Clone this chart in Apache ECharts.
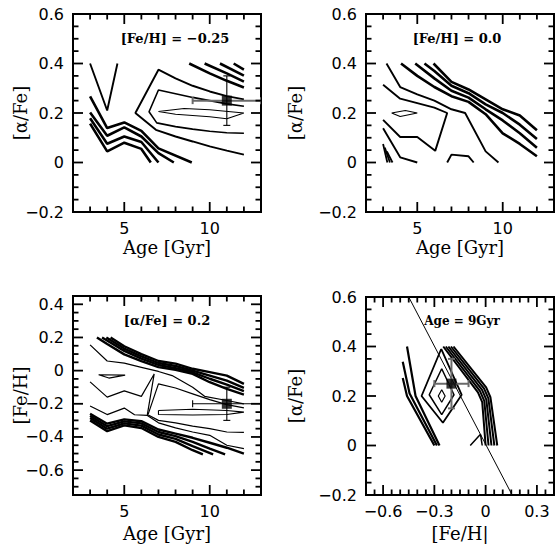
<!DOCTYPE html>
<html><head><meta charset="utf-8">
<script src="https://cdn.jsdelivr.net/npm/echarts@6/dist/echarts.min.js"></script>
<style>html,body{margin:0;padding:0;background:#fff}#c{width:555px;height:544px}</style>
</head><body><div id="c"></div><script>
// ---------- tick values ----------
const ageMajor = [5, 10];
const ageMinorStep = 1;
const alphaMajor = [-0.2, 0, 0.2, 0.4, 0.6];
const alphaMinorStep = 0.05;
const feYMajor = [-0.6, -0.4, -0.2, 0, 0.2, 0.4];
const feYMinorStep = 0.05;
const feXMajor = [-0.6, -0.3, 0, 0.3];
const feXMinorStep = 0.05;

// ---------- panel 1 : [Fe/H] = -0.25 ----------
const p1V = [[3,0.4],[4,0.21],[4.6,0.4]];
const p1Low1 = [[3,0.267],[4,0.139],[5,0.162],[6,0.128],[7,0.057],[8.95,0]];
const p1Low2 = [[3,0.202],[4,0.108],[5,0.142],[6,0.105],[7,0.038],[7.9,0]];
const p1Low3 = [[3,0.179],[4,0.076],[5,0.105],[6,0.083],[7,0]];
const p1Low4 = [[3,0.157],[4,0.045],[5,0.08],[6,0.055],[6.55,0]];
const p1Top1 = [[8.8,0.4],[10,0.36],[11,0.33],[12,0.303]];
const p1Top2 = [[9.7,0.4],[11,0.36],[12,0.327]];
const p1Top3 = [[10.6,0.4],[12,0.351]];
const p1Top4 = [[11.4,0.4],[12,0.375]];
const p1C1 = [[12,0.255],[11,0.268],[10,0.287],[9,0.31],[8,0.34],[7,0.375],[5.65,0.2],[6.85,0.132],[8,0.105],[9,0.085],[10,0.065],[11,0.048],[12,0.032]];
const p1C2 = [[12,0.227],[11,0.237],[10,0.25],[9,0.263],[8,0.278],[7,0.293],[6.45,0.205],[6.9,0.16],[8,0.145],[9,0.135],[10,0.126],[11,0.12],[12,0.118]];
const p1C3 = [[12,0.2],[10,0.213],[8.5,0.218],[7,0.206],[8,0.195],[10,0.185],[11,0.177],[12,0.2]];
const p1Point = [11, 0.25];
const p1AgeRange = [9, 13];
const p1ValRange = [0.15, 0.35];

// ---------- panel 2 : [Fe/H] = 0.0 ----------
const p2Thick1 = [[5.95,0.4],[7,0.326],[8,0.295],[9,0.255],[10,0.215],[11,0.19],[12,0.13]];
const p2Thick2 = [[5.42,0.4],[6,0.37],[7,0.31],[8,0.28],[9,0.235],[10,0.2],[11,0.153],[12,0.095]];
const p2Thick3 = [[4.88,0.4],[6,0.34],[7,0.29],[8,0.262],[9,0.215],[10,0.17],[11,0.118],[12,0.06]];
const p2Thick4 = [[4.05,0.4],[5,0.35],[6,0.305],[7,0.268],[8,0.245],[9,0.195],[10,0.118],[11,0.075],[12,0.025]];
const p2LineA = [[3,0.314],[4,0.258],[5,0.24],[6,0.222],[6.75,0.2],[6.05,0.047],[5,0.103],[4,0.103],[3,0.172]];
const p2LineB = [[3.2,0.4],[4,0.305],[5,0.275],[6,0.25],[7,0.215],[7.8,0.2],[9,0.045],[9.75,0]];
const p2LineD = [[3,0.138],[4,0.021],[5,0]];
const p2LineF = [[6.75,0],[7,0.032],[8,0.025],[8.3,0]];
const p2Diamond = [[3.5,0.2],[4.3,0.21],[5,0.2],[4,0.186],[3.5,0.2]];
const p2Short1 = [[3.0,0.075],[3.25,0]];
const p2Short2 = [[3.1,0.06],[3.4,0]];
const p2Short3 = [[3.22,0.045],[3.55,0]];

// ---------- panel 3 : [alpha/Fe] = 0.2 ----------
const p3Up1 = [[4.2,0.2],[5,0.147],[6,0.1],[7,0.058],[8,0.042],[9,0.011],[10,-0.009],[11,-0.03],[12,-0.08]];
const p3Up2 = [[3.95,0.2],[5,0.133],[6,0.086],[7,0.046],[8,0.028],[9,0],[10,-0.03],[11,-0.06],[12,-0.104]];
const p3Up3 = [[3.7,0.2],[5,0.119],[6,0.072],[7,0.034],[8,0.015],[9,-0.01],[10,-0.049],[11,-0.084],[12,-0.124]];
const p3Up4 = [[3.4,0.2],[4,0.16],[5,0.098],[6,0.058],[7,0.021],[8,0.005],[9,-0.02],[10,-0.07],[11,-0.11],[12,-0.145]];
const p3LineA = [[3,0.155],[4,0.058],[5,0.045],[6,0.02],[7,-0.005],[7.8,-0.03],[9,-0.1],[9.7,-0.155],[11,-0.18],[12,-0.2]];
const p3LineB = [[3,-0.068],[4,-0.16],[5,-0.122],[6,-0.155],[6.75,-0.02],[6.35,-0.265],[7,-0.3],[8,-0.315],[9,-0.335],[10,-0.35],[11,-0.37],[12,-0.372]];
const p3LineC = [[12,-0.225],[11,-0.205],[10,-0.175],[9,-0.14],[8,-0.105],[7,-0.08],[6.4,-0.262]];
const p3LineD = [[3,-0.213],[4,-0.265],[5,-0.226],[5.6,-0.266],[6.35,-0.27],[7,-0.315],[8,-0.345],[9,-0.37],[10,-0.39],[11,-0.45],[12,-0.47]];
const p3Inner = [[7,-0.24],[9,-0.233],[11,-0.24],[12,-0.25],[11,-0.265],[9,-0.268],[7,-0.265],[7,-0.24]];
const p3Small = [[3.5,-0.025],[4.1,-0.045],[5.05,-0.027],[3.5,-0.025]];
const p3Low1 = [[3,-0.26],[4,-0.32],[5,-0.294],[6,-0.305],[7,-0.355],[8,-0.38],[9,-0.405],[10,-0.435],[11,-0.465],[12,-0.5]];
const p3Low2 = [[3,-0.272],[4,-0.335],[5,-0.306],[6,-0.318],[7,-0.37],[8,-0.395],[9,-0.43],[10,-0.47],[10.9,-0.505]];
const p3Low3 = [[3,-0.285],[4,-0.35],[5,-0.318],[6,-0.332],[7,-0.385],[8,-0.412],[9,-0.455],[10.2,-0.505]];
const p3Low4 = [[3,-0.3],[4,-0.365],[5,-0.33],[6,-0.346],[7,-0.4],[8,-0.43],[9,-0.48],[9.6,-0.505]];
const p3Point = [11, -0.2];
const p3AgeRange = [9, 13];
const p3ValRange = [-0.3, -0.1];

// ---------- panel 4 : Age = 9 Gyr ----------
const p4Left1 = [[-0.46,0.4],[-0.41,0.2],[-0.27,0]];
const p4Left2 = [[-0.485,0.338],[-0.445,0.21],[-0.285,0]];
const p4Left3 = [[-0.485,0.273],[-0.46,0.2],[-0.3,0]];
const p4Outer = [[-0.26,0.39],[-0.375,0.2],[-0.25,0.092],[-0.14,0.205],[-0.26,0.39]];
const p4Middle = [[-0.257,0.31],[-0.33,0.205],[-0.257,0.125],[-0.185,0.205],[-0.257,0.31]];
const p4Inner = [[-0.257,0.225],[-0.277,0.2],[-0.257,0.175],[-0.237,0.2],[-0.257,0.225]];
const p4Right1 = [[-0.248,0.4],[-0.045,0.215],[-0.02,0.175],[0,0]];
const p4Right2 = [[-0.233,0.4],[-0.033,0.22],[-0.008,0.18],[0.017,0]];
const p4Right3 = [[-0.218,0.4],[-0.021,0.225],[0.004,0.185],[0.034,0]];
const p4Right4 = [[-0.203,0.4],[-0.009,0.23],[0.016,0.19],[0.051,0]];
const p4Right5 = [[-0.188,0.4],[0.003,0.235],[0.028,0.195],[0.068,0]];
const p4Lambda = [[-0.09,0],[-0.03,0.045],[-0.02,0]];
const p4Diag = [[-0.45,0.6],[0.155,-0.2]];
const p4Point = [-0.2, 0.25];
const p4FeRange = [-0.3, -0.1];
const p4ValRange = [0.15, 0.35];

// ---------- layout ----------
const grids = [
  { left: 73, top: 14, width: 188, height: 198 },
  { left: 366, top: 14, width: 188, height: 198 },
  { left: 73, top: 296, width: 188, height: 199 },
  { left: 366, top: 297, width: 188, height: 198 }
];
const ageRange = [2, 13], alphaRange = [-0.2, 0.6], feYRange = [-0.75, 0.45], feXRange = [-0.7, 0.4];

// ---------- helpers ----------
const SERIF = '"DejaVu Serif", "Liberation Serif", serif';
function fmt(v) {
  if (Math.abs(v) < 1e-9) return '0';
  const s = (Math.round(Math.abs(v) * 100) / 100).toString();
  return (v < 0 ? '\u2212' : '') + s;
}
function axisFor(g, pos, range, labels, name, gap) {
  return {
    type: 'value', gridIndex: g, position: pos, min: range[0], max: range[1],
    axisLine: { show: false, onZero: false }, axisTick: { show: false },
    splitLine: { show: false }, splitArea: { show: false }, silent: true,
    axisLabel: { show: true, customValues: labels, formatter: fmt, color: '#000', fontFamily: 'DejaVu Sans', fontSize: 16, lineHeight: 14, margin: 9 },
    name: name, nameLocation: 'middle', nameGap: gap, nameMoveOverlap: false,
    nameTextStyle: { fontFamily: SERIF, fontSize: 18, lineHeight: 20, color: '#000' }
  };
}
function tickValues(major, step, min, max) {
  const out = [];
  const near = (a, b) => Math.abs(a - b) < step * 1e-3;
  major.forEach(v => out.push([v, 10]));
  for (let k = Math.ceil(min / step - 1e-6); k <= Math.floor(max / step + 1e-6); k++) {
    const v = Math.round(k * step * 1000) / 1000;
    if (near(v, min) || near(v, max) || major.some(m => near(m, v))) continue;
    out.push([v, 5.5]);
  }
  return out;
}
function line(g, data, w) {
  return { type: 'line', xAxisIndex: g, yAxisIndex: g, data: data, showSymbol: false, symbol: 'none',
    clip: true, silent: true, lineStyle: { color: '#000', width: w }, z: 3 };
}
function errBars(g, pt, xr, yr, hColor, hW, vColor, vW) {
  return {
    type: 'custom', xAxisIndex: g, yAxisIndex: g, clip: true, silent: true, z: 4,
    encode: { x: 0, y: 1 },
    data: [[pt[0], pt[1], xr[0], xr[1], yr[0], yr[1]]],
    renderItem: function (params, api) {
      const x = api.value(0), y = api.value(1);
      const l = api.coord([api.value(2), y]), r = api.coord([api.value(3), y]);
      const b = api.coord([x, api.value(4)]), t = api.coord([x, api.value(5)]);
      const cap = 3.5;
      const hs = { stroke: hColor, lineWidth: hW, fill: null }, vs = { stroke: vColor, lineWidth: vW, fill: null };
      return { type: 'group', children: [
        { type: 'line', shape: { x1: l[0], y1: l[1], x2: r[0], y2: r[1] }, style: hs },
        { type: 'line', shape: { x1: l[0], y1: l[1] - cap, x2: l[0], y2: l[1] + cap }, style: hs },
        { type: 'line', shape: { x1: r[0], y1: r[1] - cap, x2: r[0], y2: r[1] + cap }, style: hs },
        { type: 'line', shape: { x1: b[0], y1: b[1], x2: t[0], y2: t[1] }, style: vs },
        { type: 'line', shape: { x1: b[0] - cap, y1: b[1], x2: b[0] + cap, y2: b[1] }, style: vs },
        { type: 'line', shape: { x1: t[0] - cap, y1: t[1], x2: t[0] + cap, y2: t[1] }, style: vs }
      ] };
    }
  };
}
function point(g, pt) {
  return { type: 'scatter', xAxisIndex: g, yAxisIndex: g, data: [pt], symbol: 'rect', symbolSize: 10,
    itemStyle: { color: '#000' }, silent: true, z: 6 };
}

const xAxes = [
  axisFor(0, 'bottom', ageRange, ageMajor, 'Age [Gyr]', 25),
  axisFor(1, 'bottom', ageRange, ageMajor, 'Age [Gyr]', 25),
  axisFor(2, 'bottom', ageRange, ageMajor, 'Age [Gyr]', 28),
  axisFor(3, 'bottom', feXRange, feXMajor, '[Fe/H|', 28)
];
const yAxes = [
  axisFor(0, 'left', alphaRange, alphaMajor, '[\u03b1/Fe]', 43),
  axisFor(1, 'left', alphaRange, alphaMajor, '[\u03b1/Fe]', 61),
  axisFor(2, 'left', feYRange, feYMajor, '[Fe/H]', 43),
  axisFor(3, 'left', alphaRange, alphaMajor, '[\u03b1/Fe]', 61)
];

const TH = 2.6, MD = 1.9, TN = 1.2;
const series = [
  line(0, p1V, MD), line(0, p1Low1, TH), line(0, p1Low2, TH), line(0, p1Low3, TH), line(0, p1Low4, TH),
  line(0, p1Top1, TH), line(0, p1Top2, TH), line(0, p1Top3, TH), line(0, p1Top4, TH),
  line(0, p1C1, MD), line(0, p1C2, 1.6), line(0, p1C3, 1.1),
  errBars(0, p1Point, p1AgeRange, p1ValRange, '#6a6a6a', 2, '#000', 1.1), point(0, p1Point),

  line(1, p2Thick1, TH), line(1, p2Thick2, TH), line(1, p2Thick3, TH), line(1, p2Thick4, TH),
  line(1, p2LineA, MD), line(1, p2LineB, MD), line(1, p2LineD, MD), line(1, p2LineF, MD),
  line(1, p2Diamond, 1.1), line(1, p2Short1, 1.8), line(1, p2Short2, 1.8), line(1, p2Short3, 1.8),

  line(2, p3Up1, 2.4), line(2, p3Up2, 2.4), line(2, p3Up3, 2.4), line(2, p3Up4, 2.4),
  line(2, p3LineA, TN), line(2, p3LineB, TN), line(2, p3LineC, TN), line(2, p3LineD, TN),
  line(2, p3Inner, 1.1), line(2, p3Small, 1.1),
  line(2, p3Low1, 2.4), line(2, p3Low2, 2.4), line(2, p3Low3, 2.4), line(2, p3Low4, 2.4),
  errBars(2, p3Point, p3AgeRange, p3ValRange, '#000', 1.1, '#000', 1.1), point(2, p3Point),

  line(3, p4Left1, 2.2), line(3, p4Left2, 2.2), line(3, p4Left3, 2.2),
  line(3, p4Outer, 1.8), line(3, p4Middle, 1.5), line(3, p4Inner, 1.2),
  line(3, p4Right1, 2), line(3, p4Right2, 2), line(3, p4Right3, 2), line(3, p4Right4, 2), line(3, p4Right5, 2),
  line(3, p4Lambda, 1.5), line(3, p4Diag, 1),
  errBars(3, p4Point, p4FeRange, p4ValRange, '#6a6a6a', 2, '#6a6a6a', 2), point(3, p4Point)
];

const gridBase = { show: true, borderColor: '#000', borderWidth: 2, backgroundColor: 'transparent', outerBoundsMode: 'none', containLabel: false };
const annFont = 'bold 13px ' + SERIF;
const texts = [
  { type: 'text', x: 175, y: 38, z: 10, style: { text: '[Fe/H] = \u22120.25', font: annFont, fill: '#000', align: 'center', verticalAlign: 'middle' } },
  { type: 'text', x: 457, y: 38, z: 10, style: { text: '[Fe/H] = 0.0', font: annFont, fill: '#000', align: 'center', verticalAlign: 'middle' } },
  { type: 'text', x: 167, y: 320, z: 10, style: { text: '[\u03b1/Fe] = 0.2', font: annFont, fill: '#000', align: 'center', verticalAlign: 'middle' } },
  { type: 'text', x: 462, y: 321, z: 10, style: { text: 'Age = 9Gyr', font: 'bold 12px ' + SERIF, fill: '#000', align: 'center', verticalAlign: 'middle' } }
];
const option = {
  animation: false,
  backgroundColor: '#fff',
  grid: grids.map(g => Object.assign({}, g, gridBase)),
  xAxis: xAxes,
  yAxis: yAxes,
  series: series,
  graphic: texts
};
const chart = echarts.init(document.getElementById('c'), null, { renderer: 'svg' });
chart.setOption(option);

// inward tick marks on all four sides, positioned through each grid's axis scales
const tickSpec = [
  { g: 0, xr: ageRange, yr: alphaRange, xM: ageMajor, xs: ageMinorStep, yM: alphaMajor, ys: alphaMinorStep },
  { g: 1, xr: ageRange, yr: alphaRange, xM: ageMajor, xs: ageMinorStep, yM: alphaMajor, ys: alphaMinorStep },
  { g: 2, xr: ageRange, yr: feYRange, xM: ageMajor, xs: ageMinorStep, yM: feYMajor, ys: feYMinorStep },
  { g: 3, xr: feXRange, yr: alphaRange, xM: feXMajor, xs: feXMinorStep, yM: alphaMajor, ys: alphaMinorStep }
];
const tickEls = [];
const tst = { stroke: '#000', lineWidth: 1.8 };
tickSpec.forEach(s => {
  const finder = { xAxisIndex: s.g, yAxisIndex: s.g };
  tickValues(s.xM, s.xs, s.xr[0], s.xr[1]).forEach(([v, len]) => {
    const b = chart.convertToPixel(finder, [v, s.yr[0]]);
    const t = chart.convertToPixel(finder, [v, s.yr[1]]);
    if (!b || !t) return;
    tickEls.push({ type: 'line', z: 20, silent: true, shape: { x1: b[0], y1: b[1], x2: b[0], y2: b[1] - len }, style: tst });
    tickEls.push({ type: 'line', z: 20, silent: true, shape: { x1: t[0], y1: t[1], x2: t[0], y2: t[1] + len }, style: tst });
  });
  tickValues(s.yM, s.ys, s.yr[0], s.yr[1]).forEach(([v, len]) => {
    const l = chart.convertToPixel(finder, [s.xr[0], v]);
    const r = chart.convertToPixel(finder, [s.xr[1], v]);
    if (!l || !r) return;
    tickEls.push({ type: 'line', z: 20, silent: true, shape: { x1: l[0], y1: l[1], x2: l[0] + len, y2: l[1] }, style: tst });
    tickEls.push({ type: 'line', z: 20, silent: true, shape: { x1: r[0], y1: r[1], x2: r[0] - len, y2: r[1] }, style: tst });
  });
});
chart.setOption({ graphic: texts.concat(tickEls) });
</script></body></html>
